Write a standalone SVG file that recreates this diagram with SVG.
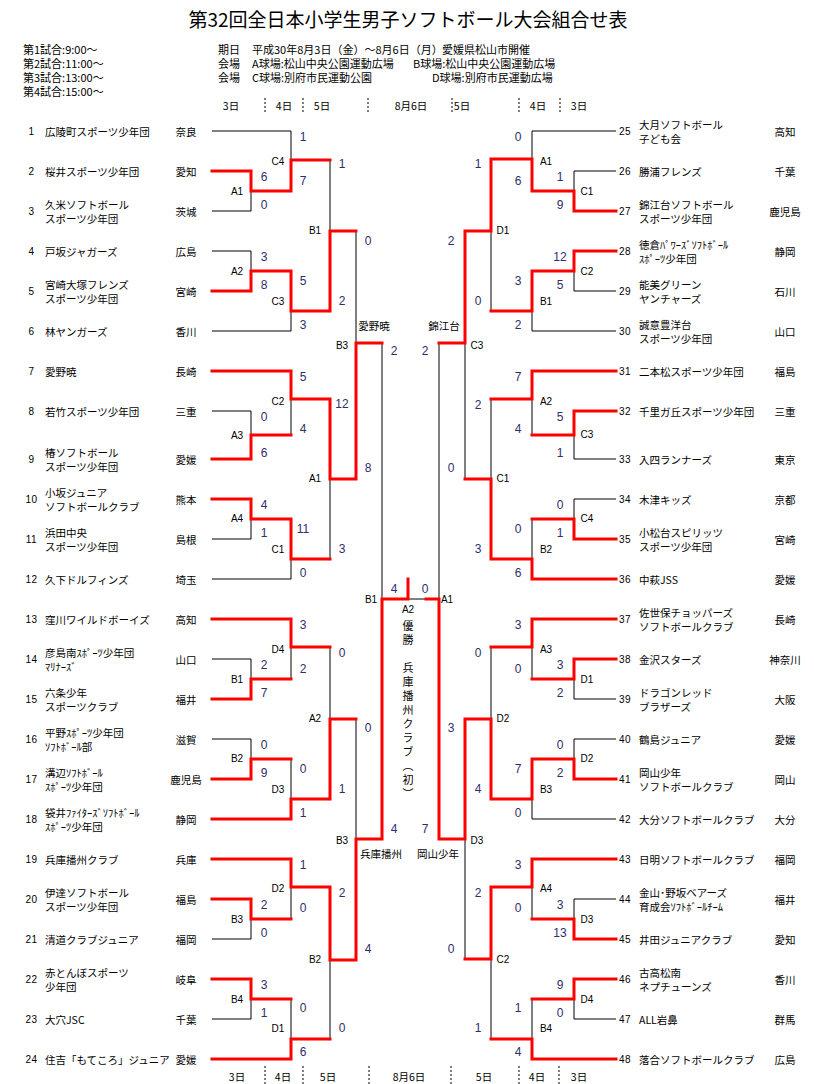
<svg xmlns="http://www.w3.org/2000/svg" width="814" height="1084" viewBox="0 0 814 1084">
<style>
text{font-family:"Noto Sans CJK JP","Liberation Sans",sans-serif;fill:#000}
.ti{font-size:19px;text-anchor:middle;dominant-baseline:central}
.hd{font-size:11px;dominant-baseline:central}
.dy{font-size:10.5px;text-anchor:middle;dominant-baseline:central}
.nm{font-size:10.5px;dominant-baseline:central}
.pf{font-size:10.5px;text-anchor:middle;dominant-baseline:central}
.no{font-family:"Liberation Sans",Arial,sans-serif;font-size:10px;text-anchor:middle;dominant-baseline:central;letter-spacing:0.5px}
.sc{font-family:"Liberation Sans",Arial,sans-serif;font-size:12px;fill:#2e2e6a;text-anchor:middle;dominant-baseline:central}
.lb{font-family:"Liberation Sans",Arial,sans-serif;font-size:10px;text-anchor:middle;dominant-baseline:central}
.cn{font-size:10.5px;text-anchor:middle;dominant-baseline:central}
.vt{font-size:11px;writing-mode:vertical-rl;letter-spacing:3px}
.k{stroke:#000;stroke-width:1;fill:none}
.r{stroke:#ff0000;stroke-width:3;fill:none;stroke-linecap:square;stroke-linejoin:miter}
.ds{stroke:#000;stroke-width:1;stroke-dasharray:2 2;fill:none}
</style>
<rect x="0" y="0" width="814" height="1084" fill="#fff"/>
<g id="header">
<text class="ti" x="408" y="18">第32回全日本小学生男子ソフトボール大会組合せ表</text>
<text class="hd" x="23" y="49">第1試合:9:00～</text>
<text class="hd" x="23" y="63">第2試合:11:00～</text>
<text class="hd" x="23" y="77">第3試合:13:00～</text>
<text class="hd" x="23" y="91">第4試合:15:00～</text>
<text class="hd" x="218" y="49">期日</text>
<text class="hd" x="252" y="49">平成30年8月3日（金）～8月6日（月）</text>
<text class="hd" x="442" y="49">愛媛県松山市開催</text>
<text class="hd" x="218" y="63">会場</text>
<text class="hd" x="252" y="63">A球場:松山中央公園運動広場</text>
<text class="hd" x="413" y="63">B球場:松山中央公園運動広場</text>
<text class="hd" x="218" y="77">会場</text>
<text class="hd" x="252" y="77">C球場:別府市民運動公園</text>
<text class="hd" x="432" y="77">D球場:別府市民運動広場</text>
<text class="dy" x="231" y="105">3日</text>
<text class="dy" x="284" y="105">4日</text>
<text class="dy" x="322" y="105">5日</text>
<text class="dy" x="411" y="105">8月6日</text>
<text class="dy" x="462" y="105">5日</text>
<text class="dy" x="538" y="105">4日</text>
<text class="dy" x="579" y="105">3日</text>
<path class="ds" d="M265 98V112M303 98V112M368 98V112M452 98V112M519 98V112M560 98V112"/>
<text class="dy" x="237" y="1076">3日</text>
<text class="dy" x="283" y="1076">4日</text>
<text class="dy" x="328" y="1076">5日</text>
<text class="dy" x="409" y="1076">8月6日</text>
<text class="dy" x="484" y="1076">5日</text>
<text class="dy" x="537" y="1076">4日</text>
<text class="dy" x="579" y="1076">3日</text>
<path class="ds" d="M265 1066V1084M303 1066V1084M369 1066V1084M451 1066V1084M519 1066V1084M559 1066V1084"/>
</g>
<g id="connectors">
<path class="k" d="M212 131H291M212 211H251M212 251H251M212 331H291M212 411H251M212 539H251M212 579H291M212 659H251M212 739H251M212 939H251M212 1019H251
M251 171V211M251 251V291M251 411V459M251 499V539M251 659V699M251 739V779M251 899V939M251 979V1019
M291 131V191M291 271V331M291 371V435M291 519V579M291 619V679M291 759V819M291 859V919M291 999V1059
M330 160V311M330 399V559M330 647V799M330 887V1039M356 231V479M356 719V960M382 343V839M382 599H439"/>
<path class="k" d="M616 131H532M616 171H574M616 291H574M616 331H532M616 459H574M616 499H574M616 699H574M616 739H574M616 819H532M616 899H574M616 1019H574
M574 171V211M574 251V291M574 411V459M574 499V539M574 659V699M574 739V779M574 899V939M574 979V1019
M532 131V191M532 271V331M532 371V435M532 519V579M532 619V679M532 759V819M532 859V919M532 999V1059
M491 159V311M491 399V559M491 647V799M491 887V1039M465 231V479M465 719V959M439 343V839"/>
<path class="r" d="M212 171H251V191H291V160H330"/>
<path class="r" d="M212 291H251V271H291V311H330V231H356"/>
<path class="r" d="M212 371H291V399H330V479H356V343H382"/>
<path class="r" d="M212 459H251V435H291"/>
<path class="r" d="M212 499H251V519H291V559H330"/>
<path class="r" d="M212 619H291V647H330"/>
<path class="r" d="M212 699H251V679H291"/>
<path class="r" d="M212 779H251V759H291"/>
<path class="r" d="M212 819H291V799H330V719H356"/>
<path class="r" d="M212 859H291V887H330V960H356V839H382V599H408V579"/>
<path class="r" d="M212 899H251V919H291"/>
<path class="r" d="M212 979H251V999H291"/>
<path class="r" d="M212 1059H291V1039H330"/>
<path class="r" d="M616 211H574V191H532V159H491V231H465V343H439"/>
<path class="r" d="M616 251H574V271H532V311H491"/>
<path class="r" d="M616 371H532V399H491"/>
<path class="r" d="M616 411H574V435H532"/>
<path class="r" d="M616 539H574V519H532"/>
<path class="r" d="M616 579H532V559H491V479H465"/>
<path class="r" d="M616 619H532V647H491"/>
<path class="r" d="M616 659H574V679H532"/>
<path class="r" d="M616 779H574V759H532V799H491V719H465V839H439V599H426"/>
<path class="r" d="M616 859H532V887H491V959H465"/>
<path class="r" d="M616 939H574V919H532"/>
<path class="r" d="M616 979H574V999H532"/>
<path class="r" d="M616 1059H532V1039H491"/>
</g>
<g id="match-labels">
<text class="lb" x="237" y="191">A1</text><text class="lb" x="237" y="271">A2</text><text class="lb" x="237" y="435">A3</text><text class="lb" x="237" y="518">A4</text>
<text class="lb" x="237" y="679">B1</text><text class="lb" x="237" y="758">B2</text><text class="lb" x="237" y="919">B3</text><text class="lb" x="237" y="999">B4</text>
<text class="lb" x="278" y="161">C4</text><text class="lb" x="278" y="301">C3</text><text class="lb" x="278" y="401">C2</text><text class="lb" x="278" y="549">C1</text>
<text class="lb" x="278" y="649">D4</text><text class="lb" x="278" y="789">D3</text><text class="lb" x="278" y="888">D2</text><text class="lb" x="278" y="1028">D1</text>
<text class="lb" x="315" y="230">B1</text><text class="lb" x="315" y="478">A1</text><text class="lb" x="315" y="718">A2</text><text class="lb" x="315" y="959">B2</text>
<text class="lb" x="342" y="345">B3</text><text class="lb" x="342" y="840">B3</text>
<text class="lb" x="371" y="599">B1</text>
<text class="lb" x="408" y="609">A2</text>
<text class="lb" x="447" y="599">A1</text>
<text class="lb" x="587" y="191">C1</text><text class="lb" x="587" y="271">C2</text><text class="lb" x="587" y="434">C3</text><text class="lb" x="587" y="518">C4</text>
<text class="lb" x="587" y="679">D1</text><text class="lb" x="587" y="758">D2</text><text class="lb" x="587" y="919">D3</text><text class="lb" x="587" y="999">D4</text>
<text class="lb" x="546" y="161">A1</text><text class="lb" x="546" y="301">B1</text><text class="lb" x="546" y="401">A2</text><text class="lb" x="546" y="549">B2</text>
<text class="lb" x="546" y="649">A3</text><text class="lb" x="546" y="789">B3</text><text class="lb" x="546" y="888">A4</text><text class="lb" x="546" y="1028">B4</text>
<text class="lb" x="503" y="230">D1</text><text class="lb" x="503" y="478">C1</text><text class="lb" x="503" y="718">D2</text><text class="lb" x="503" y="959">C2</text>
<text class="lb" x="477" y="345">C3</text><text class="lb" x="477" y="840">D3</text>
</g>
<g id="scores">
<text class="sc" x="264" y="177">6</text><text class="sc" x="264" y="205">0</text><text class="sc" x="264" y="257">3</text><text class="sc" x="264" y="285">8</text>
<text class="sc" x="264" y="417">0</text><text class="sc" x="264" y="453">6</text><text class="sc" x="264" y="505">4</text><text class="sc" x="264" y="533">1</text>
<text class="sc" x="264" y="665">2</text><text class="sc" x="264" y="693">7</text><text class="sc" x="264" y="745">0</text><text class="sc" x="264" y="773">9</text>
<text class="sc" x="264" y="905">2</text><text class="sc" x="264" y="933">0</text><text class="sc" x="264" y="985">3</text><text class="sc" x="264" y="1013">1</text>
<text class="sc" x="303" y="137">1</text><text class="sc" x="303" y="181">7</text><text class="sc" x="303" y="281">5</text><text class="sc" x="303" y="325">3</text>
<text class="sc" x="303" y="377">5</text><text class="sc" x="303" y="429">4</text><text class="sc" x="303" y="529">11</text><text class="sc" x="303" y="573">0</text>
<text class="sc" x="303" y="625">3</text><text class="sc" x="303" y="669">2</text><text class="sc" x="303" y="769">0</text><text class="sc" x="303" y="813">1</text>
<text class="sc" x="303" y="865">1</text><text class="sc" x="303" y="908">0</text><text class="sc" x="303" y="1008">0</text><text class="sc" x="303" y="1052">6</text>
<text class="sc" x="342" y="164">1</text><text class="sc" x="342" y="301">2</text><text class="sc" x="342" y="404">12</text><text class="sc" x="342" y="549">3</text>
<text class="sc" x="342" y="653">0</text><text class="sc" x="342" y="789">1</text><text class="sc" x="342" y="893">2</text><text class="sc" x="342" y="1028">0</text>
<text class="sc" x="368" y="241">0</text><text class="sc" x="368" y="468">8</text><text class="sc" x="368" y="728">0</text><text class="sc" x="368" y="949">4</text>
<text class="sc" x="394" y="351">2</text><text class="sc" x="394" y="829">4</text><text class="sc" x="394" y="589">4</text>
<text class="sc" x="560" y="177">1</text><text class="sc" x="560" y="205">9</text><text class="sc" x="560" y="257">12</text><text class="sc" x="560" y="285">5</text>
<text class="sc" x="560" y="417">5</text><text class="sc" x="560" y="453">1</text><text class="sc" x="560" y="505">0</text><text class="sc" x="560" y="533">1</text>
<text class="sc" x="560" y="665">3</text><text class="sc" x="560" y="693">2</text><text class="sc" x="560" y="745">0</text><text class="sc" x="560" y="773">2</text>
<text class="sc" x="560" y="905">3</text><text class="sc" x="560" y="933">13</text><text class="sc" x="560" y="985">9</text><text class="sc" x="560" y="1013">0</text>
<text class="sc" x="518" y="137">0</text><text class="sc" x="518" y="181">6</text><text class="sc" x="518" y="281">3</text><text class="sc" x="518" y="325">2</text>
<text class="sc" x="518" y="377">7</text><text class="sc" x="518" y="429">4</text><text class="sc" x="518" y="529">0</text><text class="sc" x="518" y="573">6</text>
<text class="sc" x="518" y="625">3</text><text class="sc" x="518" y="669">0</text><text class="sc" x="518" y="769">7</text><text class="sc" x="518" y="813">0</text>
<text class="sc" x="518" y="865">3</text><text class="sc" x="518" y="908">0</text><text class="sc" x="518" y="1008">1</text><text class="sc" x="518" y="1052">4</text>
<text class="sc" x="478" y="164">1</text><text class="sc" x="478" y="301">0</text><text class="sc" x="478" y="405">2</text><text class="sc" x="478" y="549">3</text>
<text class="sc" x="478" y="653">0</text><text class="sc" x="478" y="789">4</text><text class="sc" x="478" y="893">2</text><text class="sc" x="478" y="1028">1</text>
<text class="sc" x="451" y="241">2</text><text class="sc" x="451" y="468">0</text><text class="sc" x="451" y="728">3</text><text class="sc" x="451" y="949">0</text>
<text class="sc" x="425" y="351">2</text><text class="sc" x="425" y="829">7</text><text class="sc" x="425" y="589">0</text>
</g>
<g id="advancers">
<text class="cn" x="374" y="325">愛野暁</text>
<text class="cn" x="444" y="325">錦江台</text>
<text class="cn" x="381" y="853">兵庫播州</text>
<text class="cn" x="438" y="853">岡山少年</text>
</g>
<g id="champion">
<text class="vt" x="408" y="620.5">優勝</text>
<text class="vt" x="408" y="662.5">兵庫播州クラブ（初）</text>
</g>
<g id="team-1"><text class="no" x="31.5" y="131">1</text><text class="nm" x="45" y="131">広陵町スポーツ少年団</text><text class="pf" x="186" y="131">奈良</text></g>
<g id="team-2"><text class="no" x="31.5" y="171">2</text><text class="nm" x="45" y="171">桜井スポーツ少年団</text><text class="pf" x="186" y="171">愛知</text></g>
<g id="team-3"><text class="no" x="31.5" y="211">3</text><text class="nm" x="45" y="204.5">久米ソフトボール</text><text class="nm" x="45" y="218">スポーツ少年団</text><text class="pf" x="186" y="211">茨城</text></g>
<g id="team-4"><text class="no" x="31.5" y="251">4</text><text class="nm" x="45" y="251">戸坂ジャガーズ</text><text class="pf" x="186" y="251">広島</text></g>
<g id="team-5"><text class="no" x="31.5" y="291">5</text><text class="nm" x="45" y="284.5">宮崎大塚フレンズ</text><text class="nm" x="45" y="298">スポーツ少年団</text><text class="pf" x="186" y="291">宮崎</text></g>
<g id="team-6"><text class="no" x="31.5" y="331">6</text><text class="nm" x="45" y="331">林ヤンガーズ</text><text class="pf" x="186" y="331">香川</text></g>
<g id="team-7"><text class="no" x="31.5" y="371">7</text><text class="nm" x="45" y="371">愛野暁</text><text class="pf" x="186" y="371">長崎</text></g>
<g id="team-8"><text class="no" x="31.5" y="411">8</text><text class="nm" x="45" y="411">若竹スポーツ少年団</text><text class="pf" x="186" y="411">三重</text></g>
<g id="team-9"><text class="no" x="31.5" y="459">9</text><text class="nm" x="45" y="452.5">椿ソフトボール</text><text class="nm" x="45" y="466">スポーツ少年団</text><text class="pf" x="186" y="459">愛媛</text></g>
<g id="team-10"><text class="no" x="31.5" y="499">10</text><text class="nm" x="45" y="492.5">小坂ジュニア</text><text class="nm" x="45" y="506">ソフトボールクラブ</text><text class="pf" x="186" y="499">熊本</text></g>
<g id="team-11"><text class="no" x="31.5" y="539">11</text><text class="nm" x="45" y="532.5">浜田中央</text><text class="nm" x="45" y="546">スポーツ少年団</text><text class="pf" x="186" y="539">島根</text></g>
<g id="team-12"><text class="no" x="31.5" y="579">12</text><text class="nm" x="45" y="579">久下ドルフィンズ</text><text class="pf" x="186" y="579">埼玉</text></g>
<g id="team-13"><text class="no" x="31.5" y="619">13</text><text class="nm" x="45" y="619">窪川ワイルドボーイズ</text><text class="pf" x="186" y="619">高知</text></g>
<g id="team-14"><text class="no" x="31.5" y="659">14</text><text class="nm" x="45" y="652.5">彦島南ｽﾎﾟｰﾂ少年団</text><text class="nm" x="45" y="666">ﾏﾘﾅｰｽﾞ</text><text class="pf" x="186" y="659">山口</text></g>
<g id="team-15"><text class="no" x="31.5" y="699">15</text><text class="nm" x="45" y="692.5">六条少年</text><text class="nm" x="45" y="706">スポーツクラブ</text><text class="pf" x="186" y="699">福井</text></g>
<g id="team-16"><text class="no" x="31.5" y="739">16</text><text class="nm" x="45" y="732.5">平野ｽﾎﾟｰﾂ少年団</text><text class="nm" x="45" y="746">ｿﾌﾄﾎﾞｰﾙ部</text><text class="pf" x="186" y="739">滋賀</text></g>
<g id="team-17"><text class="no" x="31.5" y="779">17</text><text class="nm" x="45" y="772.5">溝辺ｿﾌﾄﾎﾞｰﾙ</text><text class="nm" x="45" y="786">ｽﾎﾟｰﾂ少年団</text><text class="pf" x="186" y="779">鹿児島</text></g>
<g id="team-18"><text class="no" x="31.5" y="819">18</text><text class="nm" x="45" y="812.5">袋井ﾌｧｲﾀｰｽﾞｿﾌﾄﾎﾞｰﾙ</text><text class="nm" x="45" y="826">ｽﾎﾟｰﾂ少年団</text><text class="pf" x="186" y="819">静岡</text></g>
<g id="team-19"><text class="no" x="31.5" y="859">19</text><text class="nm" x="45" y="859">兵庫播州クラブ</text><text class="pf" x="186" y="859">兵庫</text></g>
<g id="team-20"><text class="no" x="31.5" y="899">20</text><text class="nm" x="45" y="892.5">伊達ソフトボール</text><text class="nm" x="45" y="906">スポーツ少年団</text><text class="pf" x="186" y="899">福島</text></g>
<g id="team-21"><text class="no" x="31.5" y="939">21</text><text class="nm" x="45" y="939">清道クラブジュニア</text><text class="pf" x="186" y="939">福岡</text></g>
<g id="team-22"><text class="no" x="31.5" y="979">22</text><text class="nm" x="45" y="972.5">赤とんぼスポーツ</text><text class="nm" x="45" y="986">少年団</text><text class="pf" x="186" y="979">岐阜</text></g>
<g id="team-23"><text class="no" x="31.5" y="1019">23</text><text class="nm" x="45" y="1019">大穴JSC</text><text class="pf" x="186" y="1019">千葉</text></g>
<g id="team-24"><text class="no" x="31.5" y="1059">24</text><text class="nm" x="45" y="1059">住吉「もてころ」ジュニア</text><text class="pf" x="186" y="1059">愛媛</text></g>
<g id="team-25"><text class="no" x="625" y="131">25</text><text class="nm" x="639" y="124.5">大月ソフトボール</text><text class="nm" x="639" y="138">子ども会</text><text class="pf" x="785" y="131">高知</text></g>
<g id="team-26"><text class="no" x="625" y="171">26</text><text class="nm" x="639" y="171">勝浦フレンズ</text><text class="pf" x="785" y="171">千葉</text></g>
<g id="team-27"><text class="no" x="625" y="211">27</text><text class="nm" x="639" y="204.5">錦江台ソフトボール</text><text class="nm" x="639" y="218">スポーツ少年団</text><text class="pf" x="785" y="211">鹿児島</text></g>
<g id="team-28"><text class="no" x="625" y="251">28</text><text class="nm" x="639" y="244.5">徳倉ﾊﾟﾜｰｽﾞｿﾌﾄﾎﾞｰﾙ</text><text class="nm" x="639" y="258">ｽﾎﾟｰﾂ少年団</text><text class="pf" x="785" y="251">静岡</text></g>
<g id="team-29"><text class="no" x="625" y="291">29</text><text class="nm" x="639" y="284.5">能美グリーン</text><text class="nm" x="639" y="298">ヤンチャーズ</text><text class="pf" x="785" y="291">石川</text></g>
<g id="team-30"><text class="no" x="625" y="331">30</text><text class="nm" x="639" y="324.5">誠意豊洋台</text><text class="nm" x="639" y="338">スポーツ少年団</text><text class="pf" x="785" y="331">山口</text></g>
<g id="team-31"><text class="no" x="625" y="371">31</text><text class="nm" x="639" y="371">二本松スポーツ少年団</text><text class="pf" x="785" y="371">福島</text></g>
<g id="team-32"><text class="no" x="625" y="411">32</text><text class="nm" x="639" y="411">千里ガ丘スポーツ少年団</text><text class="pf" x="785" y="411">三重</text></g>
<g id="team-33"><text class="no" x="625" y="459">33</text><text class="nm" x="639" y="459">入四ランナーズ</text><text class="pf" x="785" y="459">東京</text></g>
<g id="team-34"><text class="no" x="625" y="499">34</text><text class="nm" x="639" y="499">木津キッズ</text><text class="pf" x="785" y="499">京都</text></g>
<g id="team-35"><text class="no" x="625" y="539">35</text><text class="nm" x="639" y="532.5">小松台スピリッツ</text><text class="nm" x="639" y="546">スポーツ少年団</text><text class="pf" x="785" y="539">宮崎</text></g>
<g id="team-36"><text class="no" x="625" y="579">36</text><text class="nm" x="639" y="579">中萩JSS</text><text class="pf" x="785" y="579">愛媛</text></g>
<g id="team-37"><text class="no" x="625" y="619">37</text><text class="nm" x="639" y="612.5">佐世保チョッパーズ</text><text class="nm" x="639" y="626">ソフトボールクラブ</text><text class="pf" x="785" y="619">長崎</text></g>
<g id="team-38"><text class="no" x="625" y="659">38</text><text class="nm" x="639" y="659">金沢スターズ</text><text class="pf" x="785" y="659">神奈川</text></g>
<g id="team-39"><text class="no" x="625" y="699">39</text><text class="nm" x="639" y="692.5">ドラゴンレッド</text><text class="nm" x="639" y="706">ブラザーズ</text><text class="pf" x="785" y="699">大阪</text></g>
<g id="team-40"><text class="no" x="625" y="739">40</text><text class="nm" x="639" y="739">鶴島ジュニア</text><text class="pf" x="785" y="739">愛媛</text></g>
<g id="team-41"><text class="no" x="625" y="779">41</text><text class="nm" x="639" y="772.5">岡山少年</text><text class="nm" x="639" y="786">ソフトボールクラブ</text><text class="pf" x="785" y="779">岡山</text></g>
<g id="team-42"><text class="no" x="625" y="819">42</text><text class="nm" x="639" y="819">大分ソフトボールクラブ</text><text class="pf" x="785" y="819">大分</text></g>
<g id="team-43"><text class="no" x="625" y="859">43</text><text class="nm" x="639" y="859">日明ソフトボールクラブ</text><text class="pf" x="785" y="859">福岡</text></g>
<g id="team-44"><text class="no" x="625" y="899">44</text><text class="nm" x="639" y="892.5">金山･野坂ベアーズ</text><text class="nm" x="639" y="906">育成会ｿﾌﾄﾎﾞｰﾙﾁｰﾑ</text><text class="pf" x="785" y="899">福井</text></g>
<g id="team-45"><text class="no" x="625" y="939">45</text><text class="nm" x="639" y="939">井田ジュニアクラブ</text><text class="pf" x="785" y="939">愛知</text></g>
<g id="team-46"><text class="no" x="625" y="979">46</text><text class="nm" x="639" y="972.5">古高松南</text><text class="nm" x="639" y="986">ネプチューンズ</text><text class="pf" x="785" y="979">香川</text></g>
<g id="team-47"><text class="no" x="625" y="1019">47</text><text class="nm" x="639" y="1019">ALL岩鼻</text><text class="pf" x="785" y="1019">群馬</text></g>
<g id="team-48"><text class="no" x="625" y="1059">48</text><text class="nm" x="639" y="1059">落合ソフトボールクラブ</text><text class="pf" x="785" y="1059">広島</text></g>
</svg>
